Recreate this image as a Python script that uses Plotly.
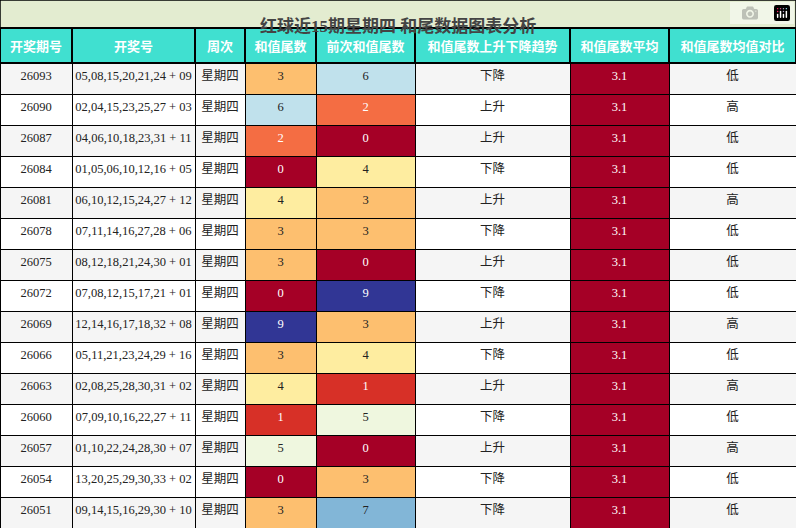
import plotly.graph_objects as go

periods = ["26093","26090","26087","26084","26081","26078","26075","26072","26069","26066","26063","26060","26057","26054","26051"]
numbers = ["05,08,15,20,21,24 + 09","02,04,15,23,25,27 + 03","04,06,10,18,23,31 + 11","01,05,06,10,12,16 + 05",
           "06,10,12,15,24,27 + 12","07,11,14,16,27,28 + 06","08,12,18,21,24,30 + 01","07,08,12,15,17,21 + 01",
           "12,14,16,17,18,32 + 08","05,11,21,23,24,29 + 16","02,08,25,28,30,31 + 02","07,09,10,16,22,27 + 11",
           "01,10,22,24,28,30 + 07","13,20,25,29,30,33 + 02","09,14,15,16,29,30 + 10"]
weekday = ["星期四"] * 15
tail = [3,6,2,0,4,3,3,0,9,3,4,1,5,0,3]
prev_tail = [6,2,0,4,3,3,0,9,3,4,1,5,0,3,7]
trend = ["下降","上升","上升","下降","上升","下降","上升","下降","上升","下降","上升","下降","上升","下降","下降"]
avg = ["3.1"] * 15
compare = ["低","高","低","低","高","低","低","低","高","低","高","低","高","低","低"]
headers = ["开奖期号","开奖号","周次","和值尾数","前次和值尾数","和值尾数上升下降趋势","和值尾数平均","和值尾数均值对比"]
col_px = [72,123,50,71,99,155,99,127]

cmap = {0:"#a50026",1:"#d73027",2:"#f46d43",3:"#fdbf6f",4:"#feeda0",5:"#eff7df",6:"#c0e1ec",7:"#82b6d7",8:"#4f7fbc",9:"#313695"}
def tc(v): return "white" if v in (0,1,2,8,9) else "#222"

n = len(periods)
rowbg = ["#f5f5f5" if i % 2 == 0 else "white" for i in range(n)]
fills = [rowbg, rowbg, rowbg, [cmap[v] for v in tail], [cmap[v] for v in prev_tail], rowbg, ["#a50026"]*n, rowbg]
fcols = [["#222"]*n]*3 + [[tc(v) for v in tail], [tc(v) for v in prev_tail], ["#222"]*n, ["white"]*n, ["#222"]*n]
nums_nb = [s.replace(" ", "\u00a0") for s in numbers]

fig = go.Figure(go.Table(
    columnwidth=col_px,
    domain=dict(x=[0, 1], y=[0, 1 - 28/528]),
    header=dict(values=[f"<b>{h}</b>" for h in headers], fill_color="#40e0d0", line_color="black", line_width=1.5,
                font=dict(family="Noto Sans CJK SC", size=13, color="white"), height=34, align="center"),
    cells=dict(values=[periods, nums_nb, weekday, tail, prev_tail, trend, avg, compare],
               fill_color=fills, line_color="black", line_width=1,
               font=dict(family="Liberation Serif, Noto Sans CJK SC", size=12.5, color=fcols),
               height=31, align="center"),
))
fig.add_shape(type="rect", xref="paper", yref="paper", x0=0, x1=1, y0=1 - 28/528, y1=1,
              fillcolor="#e3ecd0", line=dict(color="black", width=1.5), layer="below")
fig.add_annotation(text="<b>红球近15期星期四 和尾数据图表分析</b>", xref="paper", yref="paper", x=0.5, y=1 - 14/528,
                   showarrow=False, font=dict(family="Liberation Serif, Noto Sans CJK SC", size=17, color="#444"))
fig.update_layout(width=796, height=528, margin=dict(l=0, r=0, t=0, b=0), paper_bgcolor="white")
fig.write_html("out.html", post_script="document.body.style.margin='0';document.body.style.padding='0';")
